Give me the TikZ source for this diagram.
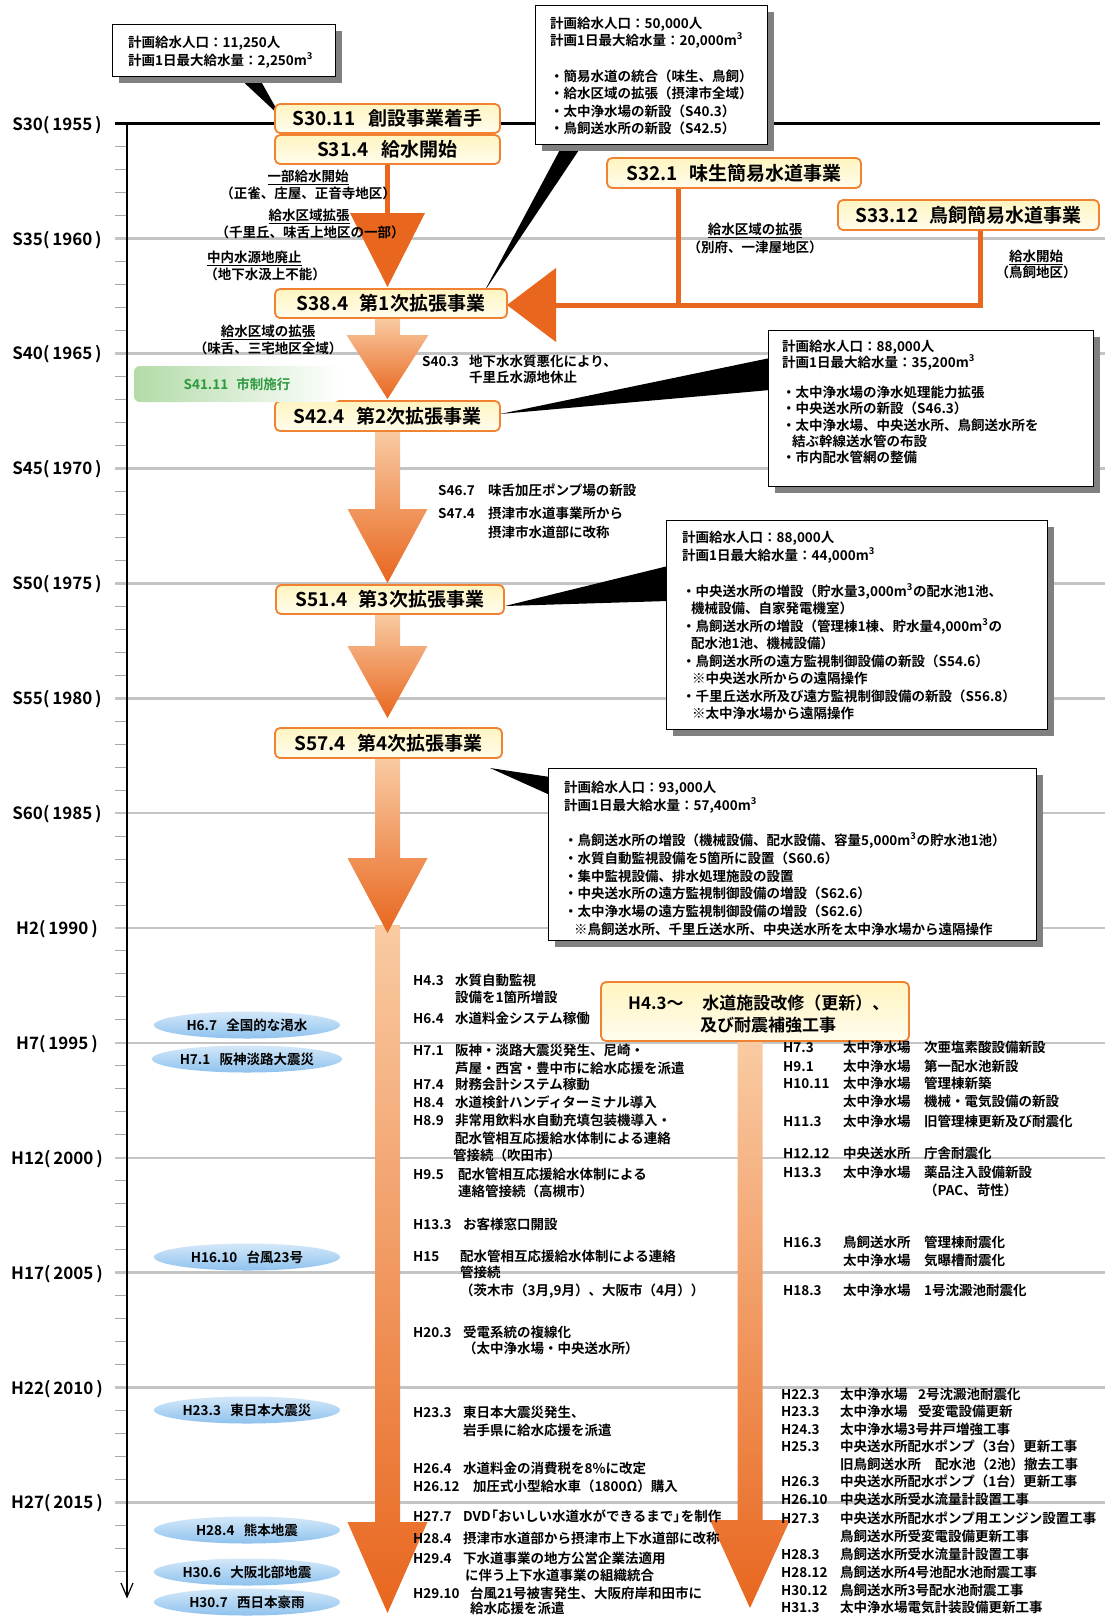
\documentclass[tikz,border=0pt]{standalone}
\usepackage{fontspec}
\setmainfont{Noto Sans CJK JP}[BoldFont={Noto Sans CJK JP Bold}]
\usetikzlibrary{shapes.geometric}
\definecolor{dor}{HTML}{E8661E}
\definecolor{lor}{HTML}{F9CBA3}
\definecolor{bord}{HTML}{F08232}
\definecolor{glinec}{HTML}{C4C4C4}
\definecolor{tickc}{HTML}{A8A8A8}
\definecolor{shad}{HTML}{808080}
\definecolor{byt}{HTML}{FFF4C0}
\definecolor{byb}{HTML}{FFFDEE}
\definecolor{grn}{HTML}{2E9A40}
\definecolor{gfill}{HTML}{B3DBA8}
\definecolor{bla}{HTML}{D4E8F9}
\definecolor{blb}{HTML}{8EC2EE}
\tikzset{
  ev/.style={inner sep=0pt, anchor=west, text height=11.88pt, text depth=1.62pt, font=\fontsize{13.5}{16}\selectfont\bfseries},
  evc/.style={ev, anchor=center},
  yr/.style={inner sep=0pt, anchor=center, text height=14.96pt, text depth=2.04pt, font=\fontsize{17}{20}\selectfont\bfseries},
  tbox/.style={draw=bord, line width=1.8pt, rounded corners=5pt, top color=byt, bottom color=byb, inner sep=0pt, text height=16.72pt, text depth=2.28pt, font=\fontsize{19}{22}\selectfont\bfseries},
  cbox/.style={draw=black, line width=1.3pt, fill=white, inner sep=0pt, anchor=north west},
  calltail/.style={fill=black},
  gridline/.style={draw=glinec, line width=2.6pt},
  minortick/.style={draw=tickc, line width=1pt},
  gbox/.style={rounded corners=6pt, left color=gfill, right color=white, inner sep=0pt, text=grn, text height=11.88pt, text depth=1.62pt, font=\fontsize{13.5}{16}\selectfont\bfseries},
  evcloud/.style={ellipse, top color=bla, bottom color=blb, inner sep=0pt, minimum width=186pt, minimum height=27pt, text height=11.88pt, text depth=1.62pt, font=\fontsize{13.5}{16}\selectfont\bfseries},
  big/.style={inner sep=0pt, anchor=west, text height=14.96pt, text depth=2.04pt, font=\fontsize{17}{20}\selectfont\bfseries},
}
\newcommand\grarr[6]{\shade[top color=lor,bottom color=dor] (#1-#5,#2) -- (#1+#5,#2) -- (#1+#5,#3) -- (#1+#6,#3) -- (#1,#4) -- (#1-#6,#3) -- (#1-#5,#3) -- cycle;}
\newcommand\evl[5]{\node[ev] (#1d) at (413,#2) {#3}; \node[ev] (#1t) at (#4,#2) {#5};}
\newcommand\rcl[5]{\node[ev] (#1d) at (783,#2) {#3}; \node[ev] (#1p) at (843,#2) {#4}; \node[ev] (#1t) at (924,#2) {#5};}
\newcommand\rcm[4]{\node[ev] (#1d) at (781,#2) {#3}; \node[ev] (#1t) at (840,#2) {#4};}
\newcommand\cl[4]{\node[ev] (#1) at (#2,#3) {#4};}
\begin{document}
\begin{tikzpicture}[x=1pt,y=-1pt]
\useasboundingbox (0,0) rectangle (1105,1617);
\fill[white] (0,0) rectangle (1105,1617);

% grid
\foreach \k in {1,...,12} \draw[gridline] (115,123.7+\k*114.9) -- (1105,123.7+\k*114.9);
\foreach \m in {0,...,12} {\foreach \n in {1,...,4} {%
  \pgfmathtruncatemacro\jj{\m*5+\n}%
  \ifnum\jj<64 \draw[minortick] (115,123.7+\jj*22.98) -- (127,123.7+\jj*22.98);\fi}}
\draw[line width=3pt] (115,123.7) -- (1100,123.7);
\coordinate (ax0) at (127,123.7);
\coordinate (ax1) at (127,1597);
\draw[line width=1.3pt] (ax0) -- (ax1);
\draw[line width=1.2pt] (121,1583) -- (ax1) -- (133,1583);

\foreach \lab [count=\i from 0] in {S30(\,1955\,),S35(\,1960\,),S40(\,1965\,),S45(\,1970\,),S50(\,1975\,),S55(\,1980\,),S60(\,1985\,),H2(\,1990\,),H7(\,1995\,),H12(\,2000\,),H17(\,2005\,),H22(\,2010\,),H27(\,2015\,)}
  \node[yr] (yl\i) at (57,123.7+\i*114.9) {\lab};

% arrows
\grarr{387.5}{318}{335}{399}{12.5}{41}
\grarr{387.5}{431}{509}{583}{12.5}{40}
\grarr{387.5}{614}{646}{718}{12.5}{40}
\grarr{387.5}{925}{1522}{1613}{12.5}{40}
\grarr{387.5}{758}{858}{933}{12.5}{40}
\grarr{750}{1041}{1520}{1608}{12.5}{40}
\draw[dor, line width=5pt] (387.5,160) -- (387.5,215);
\fill[dor] (350,213) -- (425,213) -- (387.5,287) -- cycle;
\draw[dor, line width=5pt] (678,186) -- (678,305);
\draw[dor, line width=5pt, line join=miter] (980,228) -- (980,305) -- (554,305);
\fill[dor] (556,268) -- (556,342) -- (507,305) -- cycle;

% callout tails
\fill[calltail] (237,76) -- (258,76) -- (281,117) -- cycle;
\fill[calltail] (563,144) -- (583,144) -- (484,292) -- cycle;
\fill[calltail] (500,414) -- (770,358) -- (770,390) -- cycle;
\fill[calltail] (505,606) -- (668,566) -- (668,601) -- cycle;
\fill[calltail] (490,768) -- (550,777) -- (550,795) -- cycle;

% callout boxes
\fill[shad] (119,31) rectangle (342,83);
\node[cbox, minimum width=223pt, minimum height=52pt] (c1) at (112,24) {};
\fill[shad] (542,12) rectangle (774,151);
\node[cbox, minimum width=232pt, minimum height=139pt] (c2) at (535,5) {};
\fill[shad] (775,337) rectangle (1100,493);
\node[cbox, minimum width=325pt, minimum height=156pt] (c3) at (768,330) {};
\fill[shad] (673,527) rectangle (1054,736);
\node[cbox, minimum width=381pt, minimum height=209pt] (c4) at (666,520) {};
\fill[shad] (555,775) rectangle (1043,947);
\node[cbox, minimum width=488pt, minimum height=172pt] (c5) at (548,768) {};

\cl{c1a}{128}{42}{計画給水人口：11,250人}
\cl{c1b}{128}{60}{計画1日最大給水量：2,250m\textsuperscript{3}}

\cl{c2a}{550}{23}{計画給水人口：50,000人}
\cl{c2b}{550}{40}{計画1日最大給水量：20,000m\textsuperscript{3}}
\cl{c2c}{550}{76}{・簡易水道の統合（味生、鳥飼）}
\cl{c2d}{550}{93}{・給水区域の拡張（摂津市全域）}
\cl{c2e}{550}{111}{・太中浄水場の新設（S40.3）}
\cl{c2f}{550}{128}{・鳥飼送水所の新設（S42.5）}

\cl{c3a}{782}{346}{計画給水人口：88,000人}
\cl{c3b}{782}{362}{計画1日最大給水量：35,200m\textsuperscript{3}}
\cl{c3c}{782}{392}{・太中浄水場の浄水処理能力拡張}
\cl{c3d}{782}{408}{・中央送水所の新設（S46.3）}
\cl{c3e}{782}{425}{・太中浄水場、中央送水所、鳥飼送水所を}
\cl{c3f}{792}{441}{結ぶ幹線送水管の布設}
\cl{c3g}{782}{457}{・市内配水管網の整備}

\cl{c4a}{682}{537}{計画給水人口：88,000人}
\cl{c4b}{682}{555}{計画1日最大給水量：44,000m\textsuperscript{3}}
\cl{c4c}{682}{591}{・中央送水所の増設（貯水量3,000m\textsuperscript{3}の配水池1池、}
\cl{c4d}{691}{608}{機械設備、自家発電機室）}
\cl{c4e}{682}{626}{・鳥飼送水所の増設（管理棟1棟、貯水量4,000m\textsuperscript{3}の}
\cl{c4f}{691}{643}{配水池1池、機械設備）}
\cl{c4g}{682}{661}{・鳥飼送水所の遠方監視制御設備の新設（S54.6）}
\cl{c4h}{692}{678}{※中央送水所からの遠隔操作}
\cl{c4i}{682}{696}{・千里丘送水所及び遠方監視制御設備の新設（S56.8）}
\cl{c4j}{692}{713}{※太中浄水場から遠隔操作}

\cl{c5a}{564}{787}{計画給水人口：93,000人}
\cl{c5b}{564}{805}{計画1日最大給水量：57,400m\textsuperscript{3}}
\cl{c5c}{564}{840}{・鳥飼送水所の増設（機械設備、配水設備、容量5,000m\textsuperscript{3}の貯水池1池）}
\cl{c5d}{564}{858}{・水質自動監視設備を5箇所に設置（S60.6）}
\cl{c5e}{564}{876}{・集中監視設備、排水処理施設の設置}
\cl{c5f}{564}{893}{・中央送水所の遠方監視制御設備の増設（S62.6）}
\cl{c5g}{564}{911}{・太中浄水場の遠方監視制御設備の増設（S62.6）}
\cl{c5h}{574}{929}{※鳥飼送水所、千里丘送水所、中央送水所を太中浄水場から遠隔操作}

% title boxes
\node[tbox, minimum width=225pt, minimum height=29pt] (t1) at (387.5,118.5) {S30.11\hspace{0.7em}創設事業着手};
\node[tbox, minimum width=225pt, minimum height=29pt] (t2) at (387.5,149.5) {S31.4\hspace{0.7em}給水開始};
\node[tbox, minimum width=232pt, minimum height=29pt] (t3) at (391,303.5) {S38.4\hspace{0.6em}第1次拡張事業};
\node[tbox, minimum width=225pt, minimum height=30pt] (t4) at (387.5,416) {S42.4\hspace{0.6em}第2次拡張事業};
\node[tbox, minimum width=228pt, minimum height=29pt] (t5) at (390,599.5) {S51.4\hspace{0.6em}第3次拡張事業};
\node[tbox, minimum width=227pt, minimum height=30pt] (t6) at (388.5,743) {S57.4\hspace{0.6em}第4次拡張事業};
\node[tbox, minimum width=254pt, minimum height=30pt] (t7) at (734,173) {S32.1\hspace{0.6em}味生簡易水道事業};
\node[tbox, minimum width=261pt, minimum height=30pt] (t8) at (968.5,215) {S33.12\hspace{0.6em}鳥飼簡易水道事業};
\node[tbox, minimum width=308pt, minimum height=59pt] (t9) at (755,1011.5) {};
\node[big] (t9a) at (628,1003) {H4.3～\hspace{1.1em}水道施設改修（更新）、};
\node[big] (t9b) at (700,1025) {及び耐震補強工事};

% green box
\node[gbox, minimum width=206pt, minimum height=36pt] (g1) at (237,384) {S41.11\hspace{0.6em}市制施行};

% blue clouds
\node[evcloud] (b1) at (247,1025) {H6.7\hspace{0.7em}全国的な渇水};
\node[evcloud] (b2) at (247,1059) {H7.1\hspace{0.7em}阪神淡路大震災};
\node[evcloud] (b3) at (247,1257) {H16.10\hspace{0.7em}台風23号};
\node[evcloud] (b4) at (247,1410) {H23.3\hspace{0.7em}東日本大震災};
\node[evcloud] (b5) at (247,1530) {H28.4\hspace{0.7em}熊本地震};
\node[evcloud] (b6) at (247,1572) {H30.6\hspace{0.7em}大阪北部地震};
\node[evcloud] (b7) at (247,1602) {H30.7\hspace{0.7em}西日本豪雨};

% left notes
\node[evc] (n1) at (308,176) {\underline{一部給水開始}};
\node[evc] (n2) at (308,193) {（正雀、庄屋、正音寺地区）};
\node[evc] (n3) at (309,215) {\underline{給水区域拡張}};
\node[evc] (n4) at (310,232) {（千里丘、味舌上地区の一部）};
\node[ev] (n5) at (207,257) {\underline{中内水源地廃止}};
\node[evc] (n6) at (265,274) {（地下水汲上不能）};
\node[evc] (n7) at (268,331) {\underline{給水区域の拡張}};
\node[evc] (n8) at (268,348) {（味舌、三宅地区全域）};
\node[evc] (n9) at (755,229) {\underline{給水区域の拡張}};
\node[evc] (n10) at (755,247) {（別府、一津屋地区）};
\node[evc] (n11) at (1036,256) {\underline{給水開始}};
\node[evc] (n12) at (1036,272) {（鳥飼地区）};

\node[ev] (s1d) at (422,361) {S40.3};
\node[ev] (s1t) at (469,361) {地下水水質悪化により、};
\node[ev] (s2t) at (469,377) {千里丘水源地休止};
\node[ev] (s3d) at (438,490) {S46.7};
\node[ev] (s3t) at (488,490) {味舌加圧ポンプ場の新設};
\node[ev] (s4d) at (438,513) {S47.4};
\node[ev] (s4t) at (488,513) {摂津市水道事業所から};
\node[ev] (s5t) at (488,532) {摂津市水道部に改称};

% central events
\evl{e1}{980}{H4.3}{455}{水質自動監視}
\evl{e2}{997}{}{455}{設備を1箇所増設}
\evl{e3}{1018}{H6.4}{455}{水道料金システム稼働}
\evl{e4}{1050}{H7.1}{455}{阪神・淡路大震災発生、尼崎・}
\evl{e5}{1068}{}{455}{芦屋・西宮・豊中市に給水応援を派遣}
\evl{e6}{1084}{H7.4}{455}{財務会計システム稼動}
\evl{e7}{1102}{H8.4}{455}{水道検針ハンディターミナル導入}
\evl{e8}{1120}{H8.9}{455}{非常用飲料水自動充填包装機導入・}
\evl{e9}{1138}{}{455}{配水管相互応援給水体制による連絡}
\evl{e10}{1155}{}{453}{管接続（吹田市）}
\evl{e11}{1174}{H9.5}{458}{配水管相互応援給水体制による}
\evl{e12}{1191}{}{458}{連絡管接続（高槻市）}
\evl{e13}{1224}{H13.3}{463}{お客様窓口開設}
\evl{e14}{1256}{H15}{460}{配水管相互応援給水体制による連絡}
\evl{e15}{1272}{}{460}{管接続}
\evl{e16}{1290}{}{460}{（茨木市（3月,9月）、大阪市（4月））}
\evl{e17}{1332}{H20.3}{463}{受電系統の複線化}
\evl{e18}{1348}{}{463}{（太中浄水場・中央送水所）}
\evl{e19}{1412}{H23.3}{463}{東日本大震災発生、}
\evl{e20}{1430}{}{463}{岩手県に給水応援を派遣}
\evl{e21}{1468}{H26.4}{463}{水道料金の消費税を8\%に改定}
\evl{e22}{1486}{H26.12}{473}{加圧式小型給水車（1800Ω）購入}
\evl{e23}{1516}{H27.7}{463}{DVD\kern-6pt「おいしい水道水ができるまで」\kern-6pt を制作}
\evl{e24}{1538}{H28.4}{463}{摂津市水道部から摂津市上下水道部に改称}
\evl{e25}{1558}{H29.4}{463}{下水道事業の地方公営企業法適用}
\evl{e26}{1575}{}{465}{に伴う上下水道事業の組織統合}
\evl{e27}{1593}{H29.10}{470}{台風21号被害発生、大阪府岸和田市に}
\evl{e28}{1608}{}{470}{給水応援を派遣}

% right column
\rcl{r1}{1047}{H7.3}{太中浄水場}{次亜塩素酸設備新設}
\rcl{r2}{1066}{H9.1}{太中浄水場}{第一配水池新設}
\rcl{r3}{1083}{H10.11}{太中浄水場}{管理棟新築}
\rcl{r4}{1101}{}{太中浄水場}{機械・電気設備の新設}
\rcl{r5}{1121}{H11.3}{太中浄水場}{旧管理棟更新及び耐震化}
\rcl{r6}{1153}{H12.12}{中央送水所}{庁舎耐震化}
\rcl{r7}{1172}{H13.3}{太中浄水場}{薬品注入設備新設}
\rcl{r8}{1190}{}{}{（PAC、苛性）}
\rcl{r9}{1242}{H16.3}{鳥飼送水所}{管理棟耐震化}
\rcl{r10}{1260}{}{太中浄水場}{気曝槽耐震化}
\rcl{r11}{1290}{H18.3}{太中浄水場}{1号沈澱池耐震化}
\rcm{r12}{1394}{H22.3}{太中浄水場}
\node[ev] (r12s) at (918,1394) {2号沈澱池耐震化};
\rcm{r13}{1411}{H23.3}{太中浄水場}
\node[ev] (r13s) at (918,1411) {受変電設備更新};
\rcm{r14}{1429}{H24.3}{太中浄水場3号井戸増強工事}
\rcm{r15}{1446}{H25.3}{中央送水所配水ポンプ（3台）更新工事}
\rcm{r16}{1464}{}{旧鳥飼送水所}
\node[ev] (r16s) at (935,1464) {配水池（2池）撤去工事};
\rcm{r17}{1481}{H26.3}{中央送水所配水ポンプ（1台）更新工事}
\rcm{r18}{1499}{H26.10}{中央送水所受水流量計設置工事}
\rcm{r19}{1518}{H27.3}{中央送水所配水ポンプ用エンジン設置工事}
\rcm{r20}{1536}{}{鳥飼送水所受変電設備更新工事}
\rcm{r21}{1554}{H28.3}{鳥飼送水所受水流量計設置工事}
\rcm{r22}{1572}{H28.12}{鳥飼送水所4号池配水池耐震工事}
\rcm{r23}{1590}{H30.12}{鳥飼送水所3号配水池耐震工事}
\rcm{r24}{1607}{H31.3}{太中浄水場電気計装設備更新工事}
\end{tikzpicture}
\end{document}
